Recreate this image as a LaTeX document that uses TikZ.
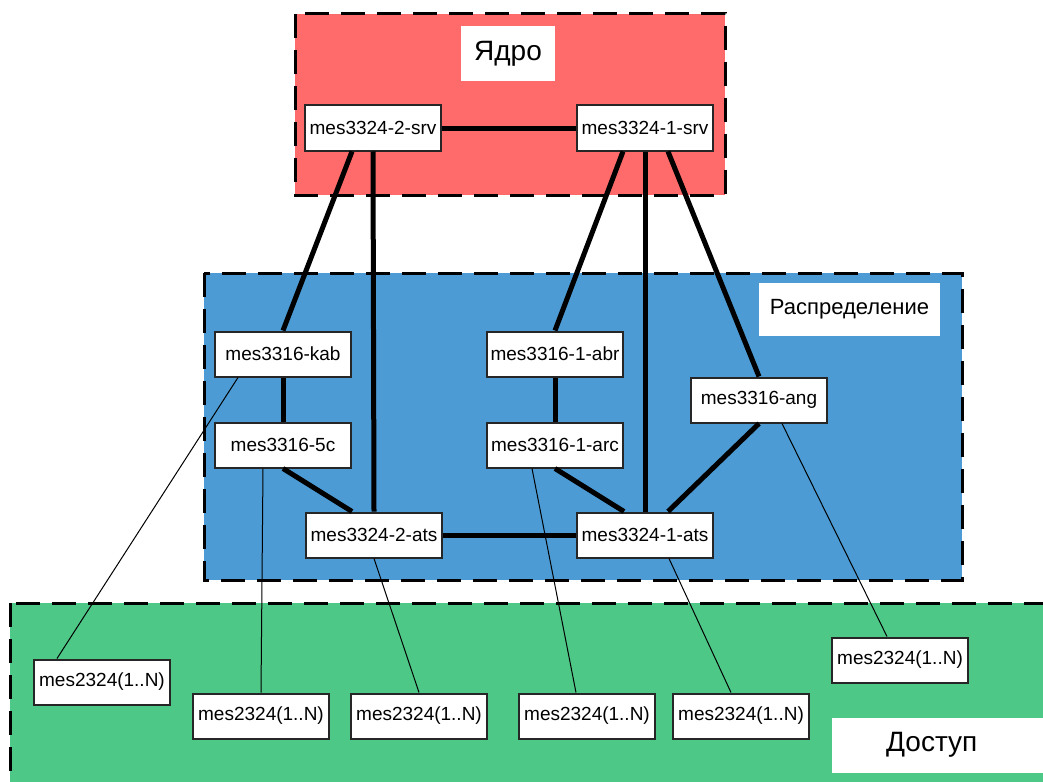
\documentclass[tikz,border=0pt]{standalone}
\usepackage{fontspec}
\setmainfont{Liberation Sans}
\definecolor{corered}{RGB}{255,107,107}
\definecolor{distblue}{RGB}{76,155,212}
\definecolor{accgreen}{RGB}{78,200,134}

\begin{document}
\begin{tikzpicture}[x=1pt, y=-1pt,
    dev/.style={draw=black!85, line width=2pt, fill=white, inner sep=0pt,
      minimum width=136pt, minimum height=45pt, font=\fontsize{19}{21}\selectfont},
    zone/.style={line width=3pt, dash pattern=on 24pt off 12pt},
    tag/.style={fill=white, inner sep=0pt},
    uplink/.style={line width=5pt},
    downlink/.style={line width=1pt}]
         \useasboundingbox (0,0) rectangle (1043,781);
         \clip (0,0) rectangle (1043,781);
         % zones
         \draw [zone, fill=corered] (295,14) rectangle (725,195);
         \draw [zone, fill=distblue] (204,273) rectangle (962,580);
         \draw [zone, fill=accgreen] (10,603) rectangle (1070,800);
         \node [tag, minimum width=94pt, minimum height=55pt, font=\fontsize{28}{30}\selectfont] (TCore) at (508,54) {Ядро};
         \node [tag, minimum width=181pt, minimum height=53pt, font=\fontsize{22}{24}\selectfont] (TDist) at (849.5,309.5) {Распределение};
         \node [tag, anchor=west, inner xsep=54pt, text width=160pt, align=left, minimum height=55pt, font=\fontsize{28}{30}\selectfont] (TAcc) at (832,745) {Доступ};
         % core
         \node [dev] (S2) at (373,128) {mes3324-2-srv};
         \node [dev] (S1) at (645,128) {mes3324-1-srv};
         % distribution
         \node [dev] (KAB) at (283,354) {mes3316-kab};
         \node [dev] (C5) at (283,445) {mes3316-5c};
         \node [dev] (T2) at (374,535) {mes3324-2-ats};
         \node [dev] (ABR) at (555,354) {mes3316-1-abr};
         \node [dev] (ARC) at (555,445) {mes3316-1-arc};
         \node [dev] (T1) at (645,535) {mes3324-1-ats};
         \node [dev] (ANG) at (759,400) {mes3316-ang};
         % access
         \node [dev] (A1) at (102,682) {mes2324(1..N)};
         \node [dev] (A2) at (261,716) {mes2324(1..N)};
         \node [dev] (A3) at (419,716) {mes2324(1..N)};
         \node [dev] (A4) at (587,716) {mes2324(1..N)};
         \node [dev] (A5) at (741,716) {mes2324(1..N)};
         \node [dev] (A6) at (900,660) {mes2324(1..N)};
         % thick links
         \draw [uplink] (S2) -- (S1);
         \draw [uplink] ([xshift=-21pt]S2.south) -- (KAB.north);
         \draw [uplink] (S2.south) -- (T2.north);
         \draw [uplink] ([xshift=-22pt]S1.south) -- (ABR.north);
         \draw [uplink] (S1.south) -- (T1.north);
         \draw [uplink] ([xshift=23pt]S1.south) -- (ANG.north);
         \draw [uplink] (KAB) -- (C5);
         \draw [uplink] (C5.south) -- ([xshift=-22pt]T2.north);
         \draw [uplink] (ABR) -- (ARC);
         \draw [uplink] (ARC.south) -- ([xshift=-21pt]T1.north);
         \draw [uplink] (ANG.south) -- ([xshift=23pt]T1.north);
         \draw [uplink] (T2) -- (T1);
         % thin links
         \draw [downlink] ([xshift=-45pt]KAB.south) -- ([xshift=-45pt]A1.north);
         \draw [downlink] ([xshift=-20pt]C5.south) -- (A2.north);
         \draw [downlink] (T2.south) -- (A3.north);
         \draw [downlink] ([xshift=-23pt]ARC.south) -- ([xshift=-11pt]A4.north);
         \draw [downlink] ([xshift=24pt]T1.south) -- ([xshift=-10pt]A5.north);
         \draw [downlink] ([xshift=23pt]ANG.south) -- ([xshift=-13pt]A6.north);
\end{tikzpicture}
\end{document}
